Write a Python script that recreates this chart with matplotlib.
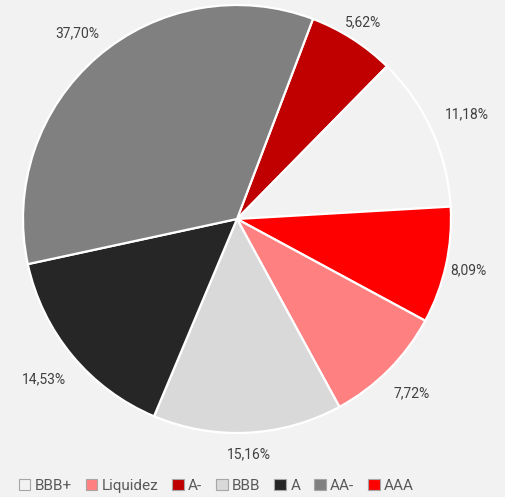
import matplotlib
matplotlib.use("Agg")
import matplotlib.pyplot as plt
from matplotlib.patches import Patch
import numpy as np

# clockwise from the top, as drawn
categories = ["A-", "BBB+", "AAA", "Liquidez", "BBB", "A", "AA-"]
# slice sizes (the printed labels differ slightly)
shares = [6.58, 11.72, 8.81, 9.17, 14.28, 15.28, 34.16]
label_text = ["5,62%", "11,18%", "8,09%", "7,72%", "15,16%", "14,53%", "37,70%"]
colors = ["#c00000", "#f2f2f2", "#ff0000", "#ff8080", "#d9d9d9", "#262626", "#808080"]

legend_order = ["BBB+", "Liquidez", "A-", "BBB", "A", "AA-", "AAA"]

# how far out each label sits, in pie radii
label_dist = [1.09, 1.18, 1.107, 1.154, 1.103, 1.173, 1.145]

BG = "#f1f2f1"
TXT = "#404040"
plt.rcParams["font.family"] = ["Roboto", "DejaVu Sans"]

W, H = 506, 497
fig = plt.figure(figsize=(W / 100, H / 100), dpi=100, facecolor=BG)
cx, cy, r = 237, 219, 214
ax = fig.add_axes([(cx - r) / W, (H - cy - r) / H, 2 * r / W, 2 * r / H])
ax.set_facecolor(BG)
ax.axis("off")

wedges, _ = ax.pie(
    shares, colors=colors, startangle=69.2, counterclock=False, radius=1,
    wedgeprops=dict(edgecolor="white", linewidth=1.6),
)
ax.set_xlim(-1, 1)
ax.set_ylim(-1, 1)

for w, txt, d in zip(wedges, label_text, label_dist):
    mid = np.deg2rad((w.theta1 + w.theta2) / 2)
    ax.text(d * np.cos(mid), d * np.sin(mid), txt, ha="center", va="center",
            fontsize=10, color=TXT, clip_on=False)

handles = [Patch(facecolor=colors[categories.index(c)], edgecolor="#a6a6a6", linewidth=0.8)
           for c in legend_order]
fig.legend(handles, legend_order, loc="center left", bbox_to_anchor=(8 / W, 11 / H),
           ncol=7, frameon=False, fontsize=11, labelcolor="#595959",
           handlelength=0.75, handleheight=0.75, handletextpad=0.3,
           columnspacing=0.9, borderpad=0.2)

fig.savefig("out.png", dpi=100, facecolor=BG)
